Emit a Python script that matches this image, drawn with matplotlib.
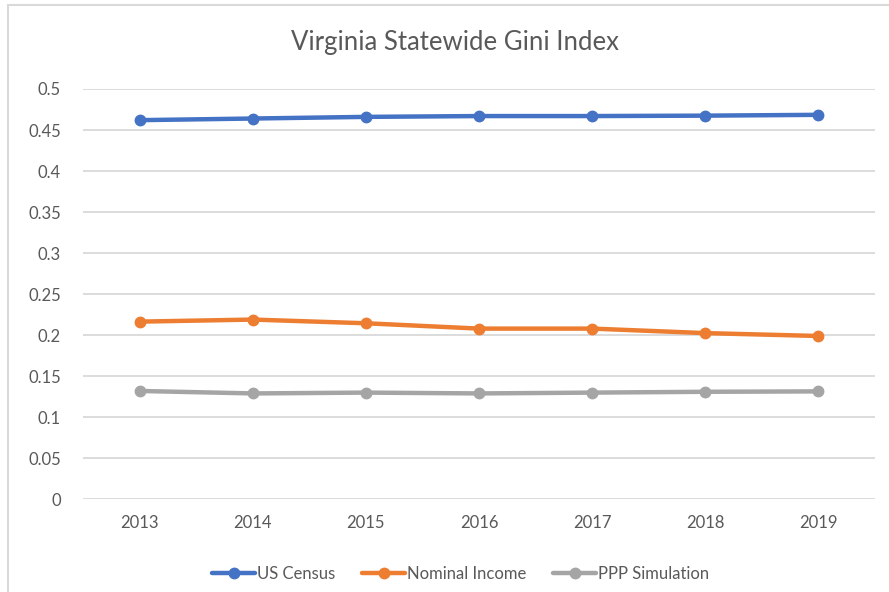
import matplotlib.pyplot as plt
from matplotlib.patches import Rectangle

years = ['2013', '2014', '2015', '2016', '2017', '2018', '2019']
us_census = [0.462, 0.464, 0.466, 0.467, 0.467, 0.4675, 0.4685]
nominal_income = [0.2165, 0.219, 0.2145, 0.208, 0.208, 0.2025, 0.199]
ppp_simulation = [0.132, 0.129, 0.130, 0.129, 0.130, 0.131, 0.1315]
y_ticks = [0, 0.05, 0.1, 0.15, 0.2, 0.25, 0.3, 0.35, 0.4, 0.45, 0.5]
y_labels = ['0', '0.05', '0.1', '0.15', '0.2', '0.25', '0.3', '0.35', '0.4', '0.45', '0.5']

text_col = '#595959'
grid_col = '#D9D9D9'
plt.rcParams['font.family'] = ['Lato', 'DejaVu Sans']

fig = plt.figure(figsize=(8.89, 5.92), dpi=100)
# chart border (Excel style)
fig.patches.append(Rectangle((8 / 889, -0.1), 1.2, 1.1 - 5 / 592, transform=fig.transFigure,
                             fill=False, edgecolor=grid_col, linewidth=1.5))

ax = fig.add_axes([0.0934, 0.1566, 0.8909, 0.6931])
x = range(len(years))
series = [(us_census, '#4472C4', 'US Census'),
          (nominal_income, '#ED7D31', 'Nominal Income'),
          (ppp_simulation, '#A5A5A5', 'PPP Simulation')]
for vals, col, name in series:
    ax.plot(x, vals, color=col, linewidth=3.2, marker='o', markersize=7.5,
            label=name, solid_capstyle='round', zorder=3)

ax.set_xlim(-0.5, len(years) - 0.5)
ax.set_ylim(0, 0.5)
ax.set_yticks(y_ticks)
ax.set_yticklabels(y_labels)
ax.set_xticks(list(x))
ax.set_xticklabels(years)
ax.grid(axis='y', color=grid_col, linewidth=1.3)
ax.set_axisbelow(True)
for s in ax.spines.values():
    s.set_visible(False)
ax.tick_params(length=0, labelsize=12, colors=text_col)
ax.tick_params(axis='y', pad=16)
ax.tick_params(axis='x', pad=11)

fig.text(0.512, 0.928, 'Virginia Statewide Gini Index', ha='center', va='center',
         fontsize=18.5, color=text_col)

ax.legend(loc='center', bbox_to_anchor=(0.518, 1 - 574 / 592), bbox_transform=fig.transFigure,
          ncol=3, frameon=False, fontsize=12, labelcolor=text_col, handlelength=2.6,
          handletextpad=0.1, columnspacing=1.6)

fig.savefig('out.png', dpi=100)
